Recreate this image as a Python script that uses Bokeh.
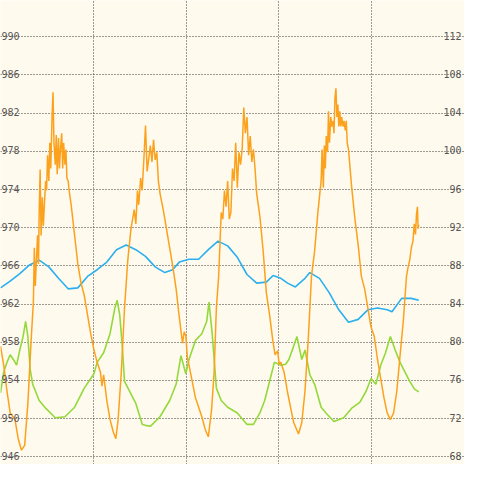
from bokeh.plotting import figure
from bokeh.models import Range1d, FixedTicker, ColumnDataSource
from bokeh.embed import file_html
from bokeh.resources import INLINE
from bokeh.core.properties import value

# ---------------- data ----------------
# time axis in hours; grid lines mark day boundaries
day_ticks = [24, 48, 72, 96]
left_ticks = [946, 950, 954, 958, 962, 966, 970, 974, 978, 982, 986, 990]
right_ticks = [68, 72, 76, 80, 84, 88, 92, 96, 100, 104, 108, 112]

# blue series (left axis)
blue_hours = [0, 2.5, 5, 7.5, 10, 12.5, 15, 17.5, 20, 22.5,
              25, 27.5, 30, 32.5, 35, 37.5, 40, 42.5, 44.5, 46.25,
              48.75, 51.25, 53.75, 56.25, 58.75, 61.25, 63.75, 66.25, 68.75, 70.5,
              72.5, 74.25, 76.25, 78.75, 80, 82.5, 85, 87.5, 90, 92.5,
              95, 97.5, 100, 101.25, 103.75, 106.25, 108.17]
blue_values = [963.7, 964.4, 965.2, 966.1, 966.6, 965.9, 964.7, 963.6, 963.7, 964.9,
               965.6, 966.4, 967.7, 968.2, 967.7, 967.0, 965.9, 965.3, 965.6, 966.4,
               966.7, 966.7, 967.7, 968.6, 968.1, 966.9, 965.1, 964.2, 964.3, 965.0,
               964.7, 964.2, 963.8, 964.7, 965.3, 964.7, 963.2, 961.4, 960.1, 960.4,
               961.4, 961.6, 961.4, 961.2, 962.6, 962.6, 962.4]

# green series (right axis)
green_hours = [0, 0.83, 1.67, 2.5, 3.33, 4.17, 5, 5.83, 6.5, 7.08,
               7.67, 8.33, 10, 11.67, 14.17, 16.67, 19.17, 21.67, 24.17, 25,
               26.67, 28.33, 29.58, 30.17, 30.83, 31.5, 32.08, 33.33, 35, 36.67,
               37.5, 38.75, 41.25, 43.75, 45.42, 46.67, 47.92, 48.75, 50.42, 52.08,
               53.33, 53.92, 54.75, 55.83, 57.08, 58.75, 61.25, 63.75, 65.42, 67.08,
               68.33, 69.58, 70.83, 72.5, 73.75, 74.58, 75.83, 76.67, 77.92, 78.75,
               80, 81.25, 82.92, 84.17, 86.25, 88.75, 90.83, 92.92, 94.58, 95.83,
               97.08, 98.33, 99.58, 100.83, 102.08, 103.33, 104.58, 105.83, 107.08, 108.17]
green_values = [74.7, 76.9, 77.9, 78.7, 78.2, 77.6, 79.2, 80.6, 82.2, 80.6,
                77.2, 75.6, 73.9, 73.1, 72.1, 72.2, 73.2, 75.2, 76.7, 77.9,
                78.9, 80.9, 83.6, 84.4, 82.9, 79.6, 75.9, 74.9, 73.6, 71.4,
                71.3, 71.2, 72.2, 73.9, 75.6, 78.6, 76.7, 78.2, 80.2, 80.9,
                82.2, 84.2, 80.9, 75.2, 73.9, 73.2, 72.6, 71.4, 71.4, 72.6,
                73.9, 75.9, 77.9, 77.6, 77.7, 78.2, 79.6, 80.6, 78.2, 79.2,
                76.6, 75.6, 73.2, 72.6, 71.7, 72.1, 73.1, 73.7, 74.9, 76.2,
                75.6, 77.6, 78.9, 80.6, 79.2, 77.9, 76.9, 75.9, 75.1, 74.8]

# orange series (right axis)
orange_hours = [0, 0.83, 1.67, 2.5, 3.75, 4.58, 5.42, 6.25, 7.08, 7.92,
                8.5, 8.75, 9, 9.58, 9.83, 10, 10.25, 10.5, 10.83, 11.08,
                11.33, 11.67, 11.92, 12.17, 12.5, 12.75, 13, 13.33, 13.58, 13.83,
                14.17, 14.42, 14.67, 15, 15.25, 15.5, 15.83, 16.08, 16.33, 16.67,
                16.92, 17.17, 17.5, 17.75, 18.33, 19.17, 20, 20.83, 21.67, 22.5,
                23.33, 24.17, 25, 25.83, 26.25, 26.67, 27.5, 28.33, 29.17, 29.83,
                30.42, 31.25, 32.08, 32.92, 33.75, 34.58, 35, 35.42, 35.75, 36.25,
                36.63, 37.08, 37.5, 37.92, 38.33, 38.75, 39.17, 39.58, 40, 40.42,
                40.83, 41.25, 42.08, 42.92, 43.75, 44.58, 45.42, 46.08, 46.67, 47.08,
                47.5, 47.92, 48.33, 48.75, 49.58, 50.42, 51.25, 52.08, 52.92, 53.75,
                54.58, 55.25, 55.83, 56.42, 57.08, 57.5, 57.92, 58.33, 58.75, 59.17,
                59.58, 60, 60.42, 60.83, 61.25, 61.67, 62.08, 62.5, 62.92, 63.33,
                63.75, 64.17, 64.58, 65, 65.42, 65.83, 66.25, 67.08, 67.92, 68.75,
                69.58, 70.42, 71, 71.67, 72.08, 72.5, 73.33, 74.17, 75, 75.83,
                77.08, 77.92, 78.75, 79.58, 80.42, 81.25, 82.08, 82.92, 83.17, 83.5,
                83.75, 84, 84.25, 84.58, 84.83, 85.08, 85.42, 85.67, 86, 86.25,
                86.5, 86.75, 87, 87.25, 87.5, 87.75, 88, 88.25, 88.58, 88.83,
                89.17, 89.42, 89.67, 90, 90.83, 91.67, 92.5, 93.33, 94.17, 95,
                95.83, 96.67, 97.5, 98.33, 99.17, 100, 100.83, 101.67, 102.5, 103.33,
                104.17, 105, 105.42, 105.83, 106.25, 106.67, 107, 107.33, 107.58, 107.83,
                108, 108.17]
orange_values = [79.6, 77.6, 74.9, 72.6, 71.9, 69.9, 68.7, 69.2, 73.6, 80.2,
                 84.2, 89.9, 85.9, 91.2, 88.2, 93.6, 98.1, 91.2, 95.2, 92.2,
                 94.2, 96.9, 95.9, 99.6, 96.9, 100.9, 98.2, 103.6, 106.2, 100.9,
                 98.6, 101.7, 97.6, 101.4, 98.2, 100.2, 101.9, 98.2, 100.9, 98.6,
                 100.2, 97.2, 96.9, 95.9, 94.2, 91.2, 88.2, 86.2, 84.9, 82.9,
                 80.9, 79.2, 77.9, 76.9, 75.4, 76.6, 73.9, 71.9, 70.6, 69.9,
                 71.9, 76.9, 83.6, 88.6, 91.9, 93.9, 92.4, 95.9, 94.4, 97.2,
                 95.9, 99.2, 102.7, 97.9, 99.2, 100.6, 98.9, 101.2, 99.1, 99.9,
                 96.9, 95.6, 93.9, 91.9, 89.9, 87.9, 85.6, 83.2, 81.2, 79.9,
                 81.1, 80.7, 78.4, 77.6, 75.9, 74.2, 73.2, 72.2, 70.9, 70.1,
                 72.9, 76.9, 83.6, 86.9, 93.6, 92.9, 95.9, 94.2, 96.9, 92.9,
                 93.6, 98.2, 96.9, 100.9, 96.2, 99.9, 98.6, 100.2, 104.6, 101.9,
                 103.6, 99.6, 101.6, 98.9, 100.2, 98.2, 95.6, 93.2, 89.6, 85.2,
                 82.9, 80.2, 78.7, 79.1, 77.7, 77.9, 76.9, 74.9, 73.2, 71.6,
                 70.4, 71.6, 74.9, 80.2, 86.9, 89.6, 93.6, 96.9, 100.2, 96.2,
                 100.6, 98.2, 101.6, 99.9, 104.2, 100.9, 103.6, 102.6, 103.2, 101.9,
                 105.6, 106.6, 103.6, 104.9, 102.6, 104.2, 102.6, 103.6, 102.6, 103.2,
                 102.2, 103.2, 100.9, 100.2, 96.2, 92.9, 90.2, 86.9, 85.6, 83.6,
                 81.6, 80.6, 78.2, 76.2, 74.2, 72.6, 71.9, 72.6, 74.9, 78.6,
                 82.2, 86.9, 87.9, 88.6, 89.9, 90.6, 92.4, 91.3, 93.4, 94.2,
                 91.9, 92.3]

# ---------------- style ----------------
BG = "#fffaee"
GRID = "#3a3a3a"
LABEL = "#555555"
BLUE = "#2ab0ee"
GREEN = "#94d93a"
ORANGE = "#fca11c"
SIZE = 464

p = figure(width=SIZE, height=SIZE, output_backend="svg", toolbar_location=None,
           x_range=Range1d(0, 120), y_range=Range1d(945.2, 993.8),
           x_axis_location=None, y_axis_location=None, min_border=0,
           background_fill_color=BG, border_fill_color=BG, outline_line_color=None)
p.extra_y_ranges = {"right": Range1d(67.2, 115.8)}

p.xgrid.ticker = FixedTicker(ticks=day_ticks)
p.ygrid.ticker = FixedTicker(ticks=left_ticks)
for g in (p.xgrid, p.ygrid):
    g.grid_line_color = GRID
    g.grid_line_dash = "1 2"
    g.grid_line_width = 1

p.line(blue_hours, blue_values, color=BLUE, line_width=1.6)
p.line(green_hours, green_values, color=GREEN, line_width=1.6, y_range_name="right")
p.line(orange_hours, orange_values, color=ORANGE, line_width=1.5, y_range_name="right")

left_src = ColumnDataSource(dict(x=[0] * len(left_ticks), y=left_ticks,
                                 t=[str(v) for v in left_ticks]))
right_src = ColumnDataSource(dict(x=[120] * len(right_ticks), y=right_ticks,
                                  t=[str(v) for v in right_ticks]))
p.text(x="x", y="y", text="t", source=left_src, text_align="left",
       text_baseline="alphabetic", x_offset=1, y_offset=-1, text_color=LABEL,
       text_font=value("DejaVu Sans Mono"), text_font_size="10px")
p.text(x="x", y="y", text="t", source=right_src, y_range_name="right",
       text_align="right", text_baseline="alphabetic", x_offset=-3, y_offset=-1,
       text_color=LABEL, text_font=value("DejaVu Sans Mono"), text_font_size="10px")

open("out.html", "w").write(file_html(p, INLINE))
